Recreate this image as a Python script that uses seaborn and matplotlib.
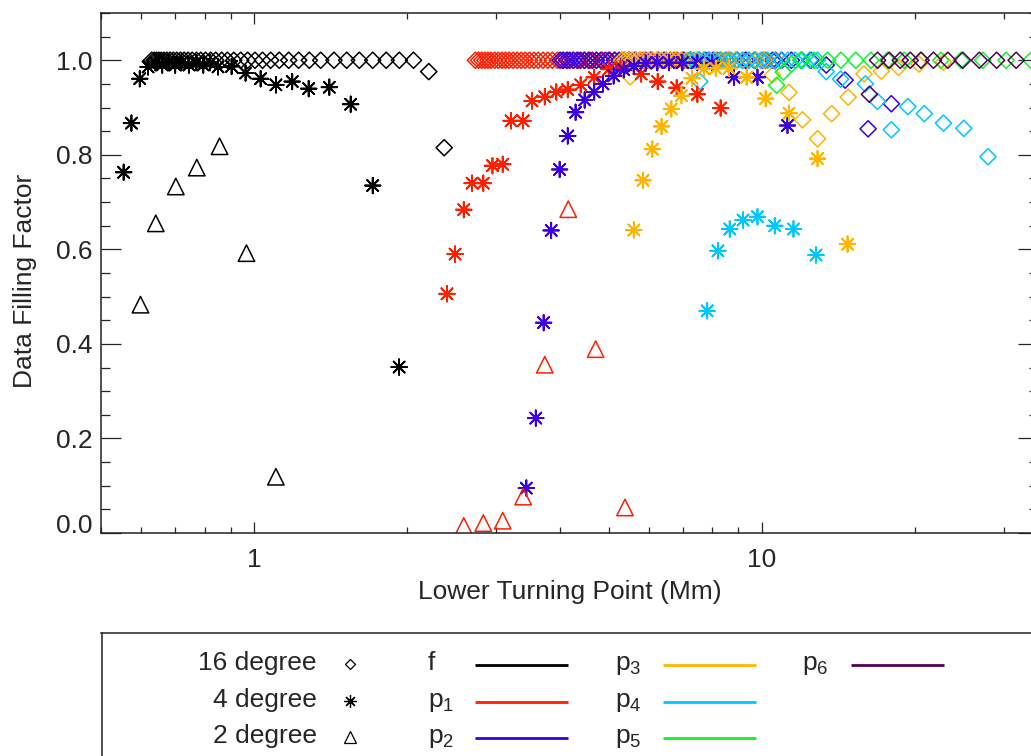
import warnings
import matplotlib
matplotlib.use("Agg")
import matplotlib.pyplot as plt
import numpy as np
import pandas as pd
import seaborn as sns
from matplotlib.ticker import MultipleLocator, NullFormatter, LogLocator

warnings.filterwarnings("ignore")

# ---- data (x = lower turning point in Mm, y = filling factor) ----
# f mode
f16_x = [0.629, 0.636, 0.643, 0.650, 0.657, 0.665, 0.674, 0.684, 0.694, 0.705,
         0.717, 0.729, 0.742, 0.756, 0.771, 0.786, 0.803, 0.822, 0.841, 0.864,
         0.887, 0.913, 0.942, 0.972, 1.005, 1.040, 1.079, 1.122, 1.171, 1.225,
         1.286, 1.354, 1.438, 1.523, 1.613, 1.714, 1.822, 1.934, 2.062, 2.21, 2.37]
f16_y = [1.0, 1.0, 1.0, 1.0, 1.0, 1.0, 1.0, 1.0, 1.0, 1.0,
         1.0, 1.0, 1.0, 1.0, 1.0, 1.0, 1.0, 1.0, 1.0, 1.0,
         1.0, 1.0, 1.0, 1.0, 1.0, 1.0, 1.0, 1.0, 1.0, 1.0,
         1.0, 1.0, 1.0, 1.0, 1.0, 1.0, 1.0, 1.0, 1.0, 0.976, 0.815]
f4_x = [0.554, 0.574, 0.596, 0.619, 0.640, 0.660, 0.680, 0.700, 0.720, 0.745,
        0.770, 0.795, 0.820, 0.850, 0.904, 0.963, 1.031, 1.105, 1.190, 1.282,
        1.408, 1.551, 1.714, 1.932]
f4_y = [0.763, 0.867, 0.961, 0.986, 0.995, 0.990, 0.995, 0.990, 0.995, 0.990,
        0.995, 0.990, 0.995, 0.986, 0.987, 0.973, 0.961, 0.948, 0.955, 0.940,
        0.943, 0.907, 0.735, 0.351]
f2_x = [0.598, 0.641, 0.702, 0.772, 0.856, 0.967, 1.105]
f2_y = [0.483, 0.655, 0.733, 0.773, 0.818, 0.592, 0.119]

# p1
p1_16_x = [2.73, 2.77, 2.81, 2.85, 2.89, 2.93, 2.98, 3.03, 3.08, 3.13,
           3.18, 3.24, 3.30, 3.36, 3.42, 3.49, 3.56, 3.63, 3.71, 3.79,
           3.87, 3.96, 4.05, 4.15, 4.25, 4.36, 4.47, 4.59, 4.72, 4.85,
           4.99, 5.14, 5.30, 5.47, 5.65, 5.84, 6.04, 6.25, 6.48, 6.72,
           6.98, 7.25, 7.54, 7.85, 8.18, 8.53, 8.90, 9.30, 9.72, 10.17, 10.65]
p1_16_y = [1.0, 1.0, 1.0, 1.0, 1.0, 1.0, 1.0, 1.0, 1.0, 1.0,
           1.0, 1.0, 1.0, 1.0, 1.0, 1.0, 1.0, 1.0, 1.0, 1.0,
           1.0, 1.0, 1.0, 1.0, 1.0, 1.0, 1.0, 1.0, 1.0, 1.0,
           1.0, 1.0, 1.0, 1.0, 1.0, 1.0, 1.0, 1.0, 1.0, 1.0,
           1.0, 1.0, 1.0, 1.0, 1.0, 1.0, 1.0, 1.0, 1.0, 1.0, 1.0]
p1_4_x = [2.40, 2.49, 2.59, 2.69, 2.83, 2.95, 3.09, 3.21, 3.39, 3.53, 3.74,
          3.94, 4.15, 4.40, 4.68, 5.00, 5.27, 5.79, 6.24, 6.80, 7.47, 8.30]
p1_4_y = [0.506, 0.590, 0.684, 0.740, 0.740, 0.777, 0.780, 0.872, 0.872, 0.914, 0.923,
          0.933, 0.938, 0.948, 0.964, 0.981, 0.984, 0.971, 0.955, 0.942, 0.928, 0.899]
p1_2_x = [2.59, 2.83, 3.09, 3.39, 3.74, 4.16, 4.71, 5.38]
p1_2_y = [0.015, 0.021, 0.026, 0.077, 0.356, 0.685, 0.389, 0.054]

# p2
p2_16_x = [4.01, 4.07, 4.13, 4.19, 4.26, 4.33, 4.40, 4.48, 4.56, 4.64,
           4.73, 4.82, 4.92, 5.02, 5.13, 5.24, 5.36, 5.49, 5.62, 5.76,
           5.91, 6.07, 6.24, 6.42, 6.61, 6.81, 7.02, 7.25, 7.49, 7.75,
           8.02, 8.31, 8.62, 8.95, 9.30, 9.67, 10.07, 10.50, 10.95, 11.44,
           11.96, 12.50, 13.4, 14.6, 16.2, 18.0]
p2_16_y = [1.0, 1.0, 1.0, 1.0, 1.0, 1.0, 1.0, 1.0, 1.0, 1.0,
           1.0, 1.0, 1.0, 1.0, 1.0, 1.0, 1.0, 1.0, 1.0, 1.0,
           1.0, 1.0, 1.0, 1.0, 1.0, 1.0, 1.0, 1.0, 1.0, 1.0,
           1.0, 1.0, 1.0, 1.0, 1.0, 1.0, 1.0, 1.0, 1.0, 1.0,
           1.0, 1.0, 0.990, 0.958, 0.855, 0.908]
p2_4_x = [3.44, 3.59, 3.72, 3.85, 4.00, 4.15, 4.30, 4.48, 4.68, 4.87, 5.11,
          5.35, 5.60, 5.91, 6.23, 6.57, 6.98, 7.47, 7.99, 8.82, 9.81, 11.24]
p2_4_y = [0.095, 0.243, 0.445, 0.640, 0.769, 0.840, 0.890, 0.916, 0.933, 0.950, 0.967,
          0.980, 0.988, 0.994, 0.995, 0.995, 0.995, 0.995, 0.994, 0.964, 0.964, 0.862]

# p3
p3_16_x = [5.30, 5.38, 5.47, 5.56, 5.66, 5.76, 5.87, 5.98, 6.10, 6.22,
           6.35, 6.49, 6.63, 6.78, 6.94, 7.11, 7.29, 7.48, 7.68, 7.89,
           8.11, 8.35, 8.60, 8.87, 9.15, 9.45, 9.77, 10.10, 5.51,
           10.5, 11.32, 12.03, 12.88, 13.73, 14.8, 15.9, 17.2, 18.6, 20.4, 22.8]
p3_16_y = [1.0, 1.0, 1.0, 1.0, 1.0, 1.0, 1.0, 1.0, 1.0, 1.0,
           1.0, 1.0, 1.0, 1.0, 1.0, 1.0, 1.0, 1.0, 1.0, 1.0,
           1.0, 1.0, 1.0, 1.0, 1.0, 1.0, 1.0, 1.0, 0.965,
           0.969, 0.932, 0.874, 0.834, 0.887, 0.922, 0.971, 0.977, 0.985, 0.992, 0.996]
p3_4_x = [5.60, 5.84, 6.09, 6.35, 6.64, 6.95, 7.29, 7.69, 8.12, 8.62,
          9.34, 10.18, 11.32, 12.88, 14.76]
p3_4_y = [0.641, 0.746, 0.812, 0.860, 0.897, 0.925, 0.962, 0.982, 0.983, 0.983,
          0.964, 0.919, 0.888, 0.792, 0.611]

# p4
p4_16_x = [7.20, 7.36, 7.53, 7.70, 7.88, 8.07, 8.27, 8.48, 8.70, 8.93,
           9.17, 9.42, 9.69, 9.97, 10.27, 10.58, 10.91, 11.26, 11.63, 12.02,
           12.43, 12.87, 7.55, 13.4, 14.3, 16.0, 16.9, 18.0, 19.4, 20.9, 22.8, 25.0, 27.9]
p4_16_y = [1.0, 1.0, 1.0, 1.0, 1.0, 1.0, 1.0, 1.0, 1.0, 1.0,
           1.0, 1.0, 1.0, 1.0, 1.0, 1.0, 1.0, 1.0, 1.0, 1.0,
           1.0, 1.0, 0.955, 0.976, 0.960, 0.950, 0.913, 0.853, 0.902, 0.887, 0.867, 0.856, 0.796]
p4_4_x = [7.81, 8.20, 8.65, 9.19, 9.81, 10.61, 11.55, 12.79]
p4_4_y = [0.470, 0.597, 0.643, 0.662, 0.669, 0.650, 0.643, 0.588]

# p5
p5_16_x = [10.7, 11.03, 11.45, 11.94, 12.68, 13.48, 14.32, 15.32, 16.41,
           17.70, 19.09, 20.59, 22.54, 24.70, 27.25, 30.28, 33.9]
p5_16_y = [0.947, 0.975, 0.992, 1.0, 1.0, 1.0, 1.0, 1.0, 1.0,
           1.0, 1.0, 1.0, 1.0, 1.0, 1.0, 1.0, 1.0]

# p6
p6_16_x = [16.3, 16.91, 17.83, 18.74, 19.61, 20.59, 21.79, 23.25, 24.88, 26.83, 29.01, 31.70]
p6_16_y = [0.928, 1.0, 1.0, 1.0, 1.0, 1.0, 1.0, 1.0, 1.0, 1.0, 1.0, 1.0]

modes = ['f', 'p1', 'p2', 'p3', 'p4', 'p5', 'p6']
mode_colors = ['#000000', '#FF1E00', '#3A00E0', '#FFB400', '#00C8FF', '#0CF52A', '#550055']
mode_labels = ['f', 'p$_1$', 'p$_2$', 'p$_3$', 'p$_4$', 'p$_5$', 'p$_6$']
degrees = [16, 4, 2]
degree_labels = ['16 degree', '4 degree', '2 degree']

x_ticks = [1, 10]
x_tick_labels = ['1', '10']
y_ticks = [0.0, 0.2, 0.4, 0.6, 0.8, 1.0]
y_tick_labels = ['0.0', '0.2', '0.4', '0.6', '0.8', '1.0']

series = [
    ('f', 16, f16_x, f16_y), ('p1', 16, p1_16_x, p1_16_y), ('p2', 16, p2_16_x, p2_16_y),
    ('p3', 16, p3_16_x, p3_16_y), ('p4', 16, p4_16_x, p4_16_y), ('p5', 16, p5_16_x, p5_16_y),
    ('p6', 16, p6_16_x, p6_16_y),
    ('f', 4, f4_x, f4_y), ('p1', 4, p1_4_x, p1_4_y), ('p2', 4, p2_4_x, p2_4_y),
    ('p3', 4, p3_4_x, p3_4_y), ('p4', 4, p4_4_x, p4_4_y),
    ('f', 2, f2_x, f2_y), ('p1', 2, p1_2_x, p1_2_y),
]
df = pd.concat([pd.DataFrame({'depth': xs, 'fill': ys, 'mode': m, 'degree': d})
                for m, d, xs, ys in series], ignore_index=True)

# ---- style ----
sns.set_style("ticks")
plt.rcParams['font.family'] = ['Liberation Sans', 'DejaVu Sans']
plt.rcParams['mathtext.fontset'] = 'custom'
plt.rcParams['mathtext.rm'] = 'Liberation Sans'
plt.rcParams['mathtext.it'] = 'Liberation Sans'
FS = 19
W, H = 1031, 756

fig = plt.figure(figsize=(W / 100, H / 100), dpi=100)
ax = fig.add_axes([101 / W, 1 - 533 / H, 937 / W, 520 / H])
ax.set_xscale('log')

palette = dict(zip(modes, mode_colors))
marker_for = {16: 'D', 4: (8, 2, 0), 2: '^'}
size_for = {16: 68, 4: 125, 2: 140}
lw_for = {16: 1.1, 4: 1.3, 2: 1.1}
for deg in degrees:
    sub = df[df['degree'] == deg]
    sns.scatterplot(data=sub, x='depth', y='fill', hue='mode', palette=palette,
                    marker=marker_for[deg], s=size_for[deg], linewidth=lw_for[deg],
                    legend=False, ax=ax)
    pts = ax.collections[-1]
    if deg != 4:
        # open symbols like the IDL plot
        pts.set_edgecolors(pts.get_facecolors())
        pts.set_facecolors('none')

ax.set_xlim(0.5, 35)
ax.set_ylim(0.0, 1.1)
ax.set_xticks(x_ticks)
ax.set_xticklabels(x_tick_labels)
ax.xaxis.set_minor_locator(LogLocator(base=10, subs=np.arange(2, 10)))
ax.xaxis.set_minor_formatter(NullFormatter())
ax.set_yticks(y_ticks)
ax.set_yticklabels(y_tick_labels)
ax.yaxis.set_minor_locator(MultipleLocator(0.05))

ax.tick_params(axis='x', which='major', direction='in', length=7.6, width=0.9,
               top=True, bottom=True, pad=11, labelsize=FS)
ax.tick_params(axis='x', which='minor', direction='in', length=4, width=0.9,
               top=True, bottom=True)
ax.tick_params(axis='y', which='major', direction='in', length=14.4, width=0.9,
               left=True, right=True, pad=5.8, labelsize=FS)
ax.tick_params(axis='y', which='minor', direction='in', length=6.8, width=0.9,
               left=True, right=True)
for sp in ax.spines.values():
    sp.set_linewidth(1.1)
    sp.set_color('#222222')
# IDL lifts the bottom label onto the axis line
ax.get_yticklabels()[0].set_verticalalignment('baseline')

ax.set_xlabel('Lower Turning Point (Mm)', fontsize=FS)
ax.set_ylabel('Data Filling Factor', fontsize=FS)
ax.xaxis.set_label_coords(0.5, -0.09)
ax.yaxis.set_label_coords(-0.068, 0.485)

# ---- legend panel (box runs off the right / bottom edge) ----
lax = fig.add_axes([101.5 / W, 0, 1.0, (H - 633) / H])
lax.set_xlim(101.5, 101.5 + W)
lax.set_ylim(H, 633)
lax.set_xticks([])
lax.set_yticks([])
lax.spines['right'].set_visible(False)
lax.spines['bottom'].set_visible(False)
for s in ['top', 'left']:
    lax.spines[s].set_linewidth(1.1)
    lax.spines[s].set_color('#222222')

row_y = [665, 702, 738]
legend_marker_size = {16: 5.5, 4: 9, 2: 8.5}
for i, (deg, lab) in enumerate(zip(degrees, degree_labels)):
    lax.text(317, row_y[i] + 5, lab, ha='right', va='baseline', fontsize=FS)
    lax.plot([350], [row_y[i] - 1], marker=marker_for[deg], ms=legend_marker_size[deg],
             mfc='none', mec='black', mew=0.9, ls='none', color='black')

col_x = [428, 615, 802]
line_start = [475, 663, 851]
for i, (lab, c) in enumerate(zip(mode_labels, mode_colors)):
    col, row = divmod(i, 3)
    lax.text(col_x[col], row_y[row] + 5, lab, ha='left', va='baseline', fontsize=FS)
    lax.plot([line_start[col], line_start[col] + 93], [row_y[row], row_y[row]],
             color=c, lw=2.0, solid_capstyle='butt')

fig.savefig('out.png', dpi=100)
